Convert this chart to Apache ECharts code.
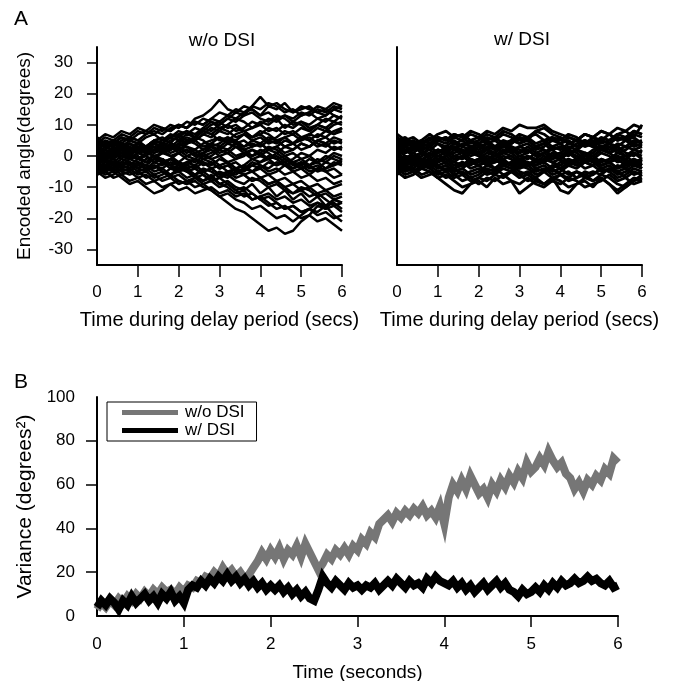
<!DOCTYPE html>
<html>
<head>
<meta charset="utf-8">
<script src="https://cdn.jsdelivr.net/npm/echarts@6/dist/echarts.min.js"></script>
<style>
  html, body { margin: 0; padding: 0; background: #fff; }
  #chart { width: 681px; height: 681px; }
</style>
</head>
<body>
<div id="chart"></div>
<script>
// Panel A: sample times (s) of each simulated trial
const TIME_A = [0,0.2,0.4,0.6,0.8,1,1.2,1.4,1.6,1.8,2,2.2,2.4,2.6,2.8,3,3.2,3.4,3.6,3.8,4,4.2,4.4,4.6,4.8,5,5.2,5.4,5.6,5.8,6];

// encoded angle (deg) per trial, without DSI
const TRIALS_NO_DSI = [
  [2,4,3,5,6,5,7,8,7,9,10,9,12,13,15,18,15,14,16,15,13,14,12,13,11,13,14,12,13,15,16],
  [1,-1,2,3,1,4,3,5,6,4,7,8,6,9,11,10,12,14,13,16,19,16,17,15,14,16,15,14,15,13,12],
  [-3,-5,-4,-6,-5,-7,-6,-8,-7,-6,-8,-9,-8,-10,-11,-13,-15,-17,-18,-20,-22,-24,-23,-25,-24,-21,-19,-16,-17,-14,-15],
  [-4,-6,-5,-7,-9,-8,-10,-12,-11,-9,-8,-9,-7,-8,-6,-9,-8,-10,-11,-9,-12,-10,-13,-11,-14,-12,-15,-13,-16,-15,-17],
  [0,-2,-1,-3,-2,-4,-3,-5,-4,-6,-5,-7,-6,-8,-7,-9,-10,-12,-11,-14,-13,-15,-17,-16,-18,-20,-19,-21,-20,-22,-24],
  [-2,-4,-3,-5,-6,-5,-7,-6,-8,-7,-9,-8,-10,-9,-11,-13,-12,-14,-15,-17,-16,-18,-20,-19,-21,-19,-17,-18,-16,-19,-21],
  [3,5,4,6,5,7,8,10,9,8,10,9,11,10,12,11,13,12,14,15,13,16,15,17,14,15,16,14,13,15,14],
  [5,3,4,6,5,4,6,7,5,6,8,7,9,8,10,11,9,10,8,9,11,10,12,9,11,10,8,10,9,11,10],
  [0,1,-1,2,0,3,1,2,4,3,5,4,6,5,3,4,6,5,7,6,8,7,5,6,4,5,7,6,8,7,9],
  [-1,0,1,-1,2,1,0,2,1,3,2,0,1,-1,0,2,1,3,2,0,1,-1,0,-2,-1,1,0,2,1,3,2],
  [2,0,1,3,2,4,3,1,2,0,1,-1,-2,0,-1,-3,-2,-4,-3,-1,-2,0,-1,-3,-2,-4,-3,-5,-4,-2,-3],
  [-5,-3,-4,-2,-3,-1,-2,0,-1,-3,-2,-4,-3,-5,-4,-6,-5,-7,-6,-8,-7,-9,-8,-10,-9,-11,-10,-12,-11,-13,-12],
  [4,6,5,3,4,2,3,5,4,6,5,7,6,8,7,9,8,6,7,5,6,4,5,3,4,6,5,7,6,8,9],
  [-3,-1,-2,-4,-3,-5,-4,-2,-3,-1,-2,-4,-3,-5,-4,-6,-7,-5,-6,-8,-7,-9,-8,-10,-12,-11,-13,-12,-14,-16,-15],
  [1,3,2,4,3,1,2,0,1,3,2,4,5,3,4,6,5,7,8,6,7,9,8,10,9,11,10,12,11,13,12],
  [-1,-3,-2,0,-1,1,0,-2,-1,-3,-2,0,-1,1,2,0,1,-1,0,2,1,3,2,0,1,-1,0,-2,-1,1,0],
  [3,1,2,0,1,-1,0,-2,-1,-3,-4,-2,-3,-1,-2,-4,-3,-5,-4,-2,-3,-5,-4,-6,-5,-7,-6,-4,-5,-7,-6],
  [-2,0,-1,1,0,2,1,3,2,4,3,5,4,2,3,1,2,0,1,-1,0,2,1,3,2,4,3,5,4,6,5],
  [0,-2,-1,-3,-2,-4,-5,-3,-4,-2,-3,-5,-6,-4,-5,-7,-6,-8,-9,-7,-8,-10,-9,-11,-12,-10,-11,-13,-12,-14,-13],
  [6,4,5,7,6,8,7,9,8,10,9,11,10,12,11,9,10,8,9,11,10,12,11,13,12,14,13,15,14,16,15],
  [-6,-4,-5,-3,-4,-6,-5,-7,-6,-4,-5,-3,-4,-2,-3,-1,-2,-4,-3,-5,-4,-6,-5,-3,-4,-2,-3,-1,-2,0,-1],
  [2,4,3,1,2,4,3,5,4,2,3,1,2,0,1,3,2,4,3,5,4,6,5,3,4,2,3,5,4,2,3],
  [-4,-2,-3,-5,-4,-2,-3,-1,-2,-4,-3,-5,-4,-6,-8,-7,-9,-11,-10,-12,-14,-13,-15,-17,-16,-18,-17,-19,-18,-20,-19],
  [1,-1,0,2,1,3,2,4,5,7,6,8,7,9,8,10,12,11,13,14,12,11,13,12,10,11,9,10,12,11,13],
  [5,7,6,8,7,9,8,7,9,8,10,9,11,10,12,14,13,15,14,16,15,17,16,14,15,13,14,16,15,17,16],
  [-5,-7,-6,-4,-5,-3,-4,-6,-5,-7,-6,-8,-7,-9,-8,-10,-9,-11,-13,-12,-14,-16,-15,-17,-16,-18,-17,-15,-16,-14,-15],
  [0,2,1,3,4,2,3,5,4,6,7,5,6,8,7,5,6,4,5,3,4,2,3,1,2,4,3,5,6,4,5],
  [-2,-1,-3,-2,0,-1,1,0,-2,-1,1,2,0,1,3,2,4,3,1,2,0,-1,1,-1,-3,-2,-4,-3,-5,-4,-6],
  [3,2,4,3,5,4,2,3,1,2,4,6,5,7,9,8,10,12,11,9,10,8,9,7,8,6,7,9,8,10,11],
  [-3,-4,-2,-3,-1,-2,-4,-3,-5,-6,-4,-5,-7,-6,-8,-7,-5,-6,-4,-5,-7,-6,-8,-7,-9,-8,-10,-9,-11,-10,-9],
  [1,0,2,1,-1,0,-2,-1,1,0,-2,-3,-1,-2,-4,-3,-5,-4,-6,-5,-3,-4,-2,-3,-5,-4,-6,-8,-7,-9,-8],
  [-1,1,0,2,3,1,2,4,3,5,6,4,5,7,6,8,7,9,8,6,7,5,6,8,7,9,8,10,9,7,8],
  [4,3,5,4,6,5,3,4,2,3,1,2,0,1,-1,0,-2,-1,1,0,2,1,-1,0,-2,-1,-3,-2,-4,-3,-2],
  [-6,-5,-7,-6,-8,-7,-9,-8,-10,-9,-11,-10,-12,-11,-10,-12,-11,-13,-12,-14,-13,-12,-14,-13,-15,-14,-16,-15,-17,-16,-18],
  [2,1,3,2,4,3,2,4,3,1,2,3,1,2,4,3,5,4,2,3,4,2,3,5,4,6,5,3,4,2,3],
  [-2,-1,-3,-1,-2,-3,-1,0,-2,-1,-3,-2,-1,-3,-2,-4,-3,-2,-4,-3,-2,-1,-3,-2,-4,-3,-5,-4,-2,-3,-1],
  [0,-1,1,0,-1,1,2,1,3,2,4,3,2,4,5,6,4,5,3,4,3,5,4,6,7,5,6,4,3,5,4],
  [-4,-3,-5,-3,-4,-2,-3,-4,-2,-3,-5,-4,-6,-5,-7,-5,-6,-4,-5,-3,-4,-2,-3,-1,-2,-3,-1,-2,0,-1,-2]
];

// encoded angle (deg) per trial, with DSI
const TRIALS_DSI = [
  [7,5,6,4,5,7,8,6,7,5,6,8,7,9,8,10,9,9,10,8,7,6,5,7,6,8,7,9,8,10,9],
  [-5,-7,-6,-4,-5,-7,-9,-11,-12,-9,-8,-10,-7,-9,-8,-12,-10,-8,-9,-7,-11,-12,-9,-8,-10,-7,-9,-12,-10,-8,-7],
  [3,1,2,4,3,5,4,6,5,7,6,4,5,3,4,6,5,8,9,7,6,4,5,3,4,6,5,7,8,6,10],
  [-2,0,-1,-3,-2,-4,-3,-5,-4,-6,-5,-3,-4,-2,-3,-5,-6,-4,-5,-7,-6,-8,-7,-5,-6,-4,-5,-7,-6,-4,-5],
  [0,2,1,-1,0,2,1,3,2,0,1,-1,0,2,1,-1,0,-2,-1,1,0,2,1,-1,0,-2,-1,1,0,2,1],
  [4,2,3,1,2,0,1,-1,0,2,1,3,2,4,3,1,2,0,1,3,2,4,3,5,4,2,3,1,2,4,3],
  [-4,-2,-3,-1,-2,0,-1,-3,-2,-4,-3,-1,-2,0,-1,-3,-2,-4,-3,-5,-4,-2,-3,-1,-2,-4,-3,-5,-4,-2,-3],
  [2,4,3,5,4,6,5,7,6,4,5,7,6,8,7,5,6,4,5,3,4,6,5,7,6,8,7,5,6,8,7],
  [-1,-3,-2,-4,-3,-1,-2,0,-1,1,0,-2,-1,-3,-2,0,-1,1,0,-2,-1,-3,-2,0,-1,1,0,-2,-1,-3,-2],
  [1,-1,0,-2,-1,-3,-2,-4,-3,-1,-2,0,-1,-3,-2,-4,-3,-1,-2,0,-1,1,0,-2,-1,-3,-2,-4,-3,-1,-2],
  [-6,-4,-5,-3,-4,-6,-5,-7,-6,-8,-7,-5,-6,-4,-5,-7,-6,-8,-9,-7,-8,-10,-9,-7,-8,-6,-7,-9,-10,-8,-6],
  [5,3,4,2,3,1,2,4,3,5,4,2,3,5,4,6,5,3,4,2,3,1,2,4,3,5,4,6,5,3,4],
  [-3,-5,-4,-6,-5,-7,-6,-8,-10,-9,-7,-8,-6,-7,-5,-6,-8,-7,-9,-8,-6,-7,-5,-6,-8,-7,-9,-11,-9,-7,-8],
  [6,4,5,3,4,6,5,7,6,8,7,5,6,4,5,7,6,8,7,5,6,4,5,7,6,4,5,7,6,8,7],
  [0,-2,-1,1,0,2,1,-1,0,-2,-1,1,0,2,1,3,2,0,1,-1,0,-2,-1,1,0,2,1,-1,0,-2,-1],
  [-5,-3,-4,-2,-3,-5,-4,-6,-5,-7,-6,-4,-5,-3,-4,-2,-3,-5,-4,-6,-5,-3,-4,-2,-3,-5,-4,-6,-5,-3,-4],
  [3,5,4,2,3,1,2,0,1,3,2,4,3,1,2,0,1,3,2,0,1,3,2,4,3,5,4,2,3,5,4],
  [-2,-4,-3,-1,-2,-4,-3,-5,-4,-2,-3,-5,-4,-6,-5,-3,-4,-6,-5,-3,-4,-6,-5,-7,-6,-4,-5,-3,-4,-6,-5],
  [1,3,2,4,3,5,6,4,5,3,4,6,5,7,6,4,5,3,4,6,5,7,6,4,5,3,4,6,5,7,6],
  [-3,-1,-2,0,1,-1,0,2,1,-1,-2,0,-1,1,0,-2,-3,-1,-2,0,-1,1,0,-2,-1,-3,-2,0,-1,1,0],
  [2,0,-1,1,-1,-2,0,-2,-3,-1,-3,-2,-4,-2,-3,-1,-3,-2,0,-2,-3,-1,-2,-4,-3,-1,-2,0,-2,-1,-3],
  [5,6,4,5,7,5,6,4,3,5,3,4,2,3,5,4,6,7,5,6,4,5,3,4,6,5,7,5,6,4,5],
  [-4,-6,-5,-7,-6,-5,-7,-6,-8,-7,-9,-7,-8,-6,-8,-9,-7,-9,-10,-8,-9,-7,-8,-10,-9,-8,-6,-8,-7,-9,-8],
  [0,-1,1,3,2,4,2,3,1,2,0,2,1,-1,0,-2,0,-1,1,2,0,1,-1,0,2,3,1,2,0,1,-1],
  [1,2,0,1,-1,1,3,2,4,3,1,2,0,1,3,2,1,3,4,2,3,1,2,0,1,3,2,4,3,2,3],
  [-1,-2,0,-1,-3,-1,-2,-4,-2,-3,-1,-3,-2,-1,-3,-4,-2,-3,-1,-2,-4,-3,-1,-2,-3,-1,-2,-4,-2,-3,-1],
  [4,5,3,4,6,4,3,5,3,2,4,5,3,4,2,3,4,2,3,5,4,2,4,5,3,2,4,3,5,6,4],
  [-4,-3,-5,-4,-2,-3,-5,-4,-6,-5,-4,-6,-5,-3,-4,-6,-5,-7,-5,-4,-6,-5,-7,-6,-5,-6,-4,-5,-7,-5,-6],
  [2,1,3,2,0,2,0,1,2,1,3,2,1,3,2,1,3,1,2,0,1,0,2,1,0,2,1,3,1,0,2],
  [-2,-3,-1,-2,-4,-2,-1,-2,0,-2,-1,-3,-1,-2,-3,-1,-2,-3,-2,-4,-2,-1,-3,-2,-1,-3,-2,-1,-3,-2,-4]
];

// Panel B: variance across trials (deg^2)
const TIME_B = [
  0,0.05,0.1,0.15,0.2,0.25,0.3,0.35,0.4,0.45,0.5,0.55,0.6,0.65,0.7,0.75,0.8,0.85,0.9,0.95,
  1,1.05,1.1,1.15,1.2,1.25,1.3,1.35,1.4,1.45,1.5,1.55,1.6,1.65,1.7,1.75,1.8,1.85,1.9,1.95,
  2,2.05,2.1,2.15,2.2,2.25,2.3,2.35,2.4,2.45,2.5,2.55,2.6,2.65,2.7,2.75,2.8,2.85,2.9,2.95,
  3,3.05,3.1,3.15,3.2,3.25,3.3,3.35,3.4,3.45,3.5,3.55,3.6,3.65,3.7,3.75,3.8,3.85,3.9,3.95,
  4,4.05,4.1,4.15,4.2,4.25,4.3,4.35,4.4,4.45,4.5,4.55,4.6,4.65,4.7,4.75,4.8,4.85,4.9,4.95,
  5,5.05,5.1,5.15,5.2,5.25,5.3,5.35,5.4,5.45,5.5,5.55,5.6,5.65,5.7,5.75,5.8,5.85,5.9,5.95,
  6
];
const VAR_NO_DSI = [
  3,6,4,7,5,8,6,9,7,10,8,11,9,12,10,13,11,12,10,13,11,
  14,13,16,15,18,17,20,18,22,19,21,18,20,17,19,22,25,29,26,30,
  27,31,26,30,28,32,27,33,29,25,21,24,28,26,30,28,31,28,32,30,
  35,33,38,36,42,44,46,43,47,45,48,46,49,47,50,46,48,45,50,42,
  54,60,57,62,58,64,60,56,58,54,60,57,62,59,64,61,66,63,70,66,
  68,72,69,75,71,68,70,65,63,58,61,57,62,60,64,62,67,65,72,70
];
const VAR_DSI = [
  4,7,5,8,6,3,7,5,9,6,8,10,7,9,6,10,8,11,7,9,6,
  12,14,13,16,14,17,15,18,16,19,16,18,15,17,14,16,13,15,12,14,
  12,14,11,13,10,12,9,11,8,7,12,18,15,13,16,14,12,15,13,14,
  12,14,13,15,12,14,16,14,17,15,13,16,14,15,13,17,15,18,16,15,
  14,16,13,15,12,14,11,13,15,12,14,16,13,15,12,11,9,12,10,11,
  13,11,14,12,15,13,16,14,15,17,15,16,18,16,17,15,14,16,13,14
];

const FONT = "'Liberation Sans', Arial, Helvetica, sans-serif";
const INK = "#000";
const GREY = "#767676";

function traceSeries(trials, axis, width) {
  return trials.map((vals, k) => ({
    name: "trial" + axis + "_" + k,
    type: "line",
    xAxisIndex: axis,
    yAxisIndex: axis,
    symbol: "none",
    silent: true,
    clip: true,
    lineStyle: { color: INK, width: width },
    data: TIME_A.map((t, i) => [t, vals[i]]),
  }));
}

function timeAxisA(gridIndex) {
  return {
    type: "value",
    gridIndex,
    min: 0,
    max: 6,
    interval: 1,
    name: "Time during delay period (secs)",
    nameLocation: "middle",
    nameGap: 45,
    nameTextStyle: { fontSize: 20, color: INK, fontFamily: FONT },
    axisLine: { show: true, onZero: false, lineStyle: { color: INK, width: 2 } },
    axisTick: { show: true, length: 12, customValues: [1, 2, 3, 4, 5, 6], lineStyle: { color: INK, width: 1.5 } },
    axisLabel: { margin: 19, fontSize: 17, color: INK, fontFamily: FONT },
    splitLine: { show: false },
  };
}

const chart = echarts.init(document.getElementById("chart"), null, { renderer: "canvas" });

chart.setOption({
  animation: false,
  backgroundColor: "#fff",
  textStyle: { fontFamily: FONT, color: INK },
  grid: [
    { left: 97, top: 47, width: 245, height: 218, outerBoundsMode: "none" },
    { left: 397, top: 47, width: 245, height: 218, outerBoundsMode: "none" },
    { left: 97, top: 397, width: 521, height: 219, outerBoundsMode: "none" },
  ],
  xAxis: [
    timeAxisA(0),
    timeAxisA(1),
    {
      type: "value",
      gridIndex: 2,
      min: 0,
      max: 6,
      interval: 1,
      name: "Time (seconds)",
      nameLocation: "middle",
      nameGap: 47,
      nameTextStyle: { fontSize: 19, color: INK, fontFamily: FONT },
      axisLine: { show: true, onZero: false, lineStyle: { color: INK, width: 2 } },
      axisTick: { show: true, length: 11, customValues: [1, 2, 3, 4, 5, 6], lineStyle: { color: INK, width: 1.5 } },
      axisLabel: { margin: 20, fontSize: 17, color: INK, fontFamily: FONT },
      splitLine: { show: false },
    },
  ],
  yAxis: [
    {
      type: "value",
      gridIndex: 0,
      min: -35,
      max: 35,
      name: "Encoded angle(degrees)",
      nameLocation: "middle",
      nameGap: 63,
      nameTextStyle: { fontSize: 19, color: INK, fontFamily: FONT },
      axisLine: { show: true, onZero: false, lineStyle: { color: INK, width: 2 } },
      axisTick: { show: true, length: 10, customValues: [-30, -20, -10, 0, 10, 20, 30], lineStyle: { color: INK, width: 1.5 } },
      axisLabel: { margin: 24, fontSize: 17, color: INK, fontFamily: FONT, customValues: [-30, -20, -10, 0, 10, 20, 30] },
      splitLine: { show: false },
    },
    {
      type: "value",
      gridIndex: 1,
      min: -35,
      max: 35,
      axisLine: { show: true, onZero: false, lineStyle: { color: INK, width: 2 } },
      axisTick: { show: false },
      axisLabel: { show: false },
      splitLine: { show: false },
    },
    {
      type: "value",
      gridIndex: 2,
      min: 0,
      max: 100,
      interval: 20,
      name: "Variance (degrees²)",
      nameLocation: "middle",
      nameGap: 60,
      nameTextStyle: { fontSize: 21, color: INK, fontFamily: FONT },
      axisLine: { show: true, onZero: false, lineStyle: { color: INK, width: 2 } },
      axisTick: { show: true, length: 11, customValues: [20, 40, 60, 80], lineStyle: { color: INK, width: 1.5 } },
      axisLabel: { margin: 22, fontSize: 17, color: INK, fontFamily: FONT },
      splitLine: { show: false },
    },
  ],
  legend: {
    data: ["w/o DSI", "w/ DSI"],
    orient: "vertical",
    left: 107,
    top: 402,
    padding: [2, 12, 2, 15],
    itemGap: 1,
    itemWidth: 56,
    itemHeight: 5,
    icon: "rect",
    borderColor: INK,
    borderWidth: 1,
    selectedMode: false,
    textStyle: { fontSize: 17, color: INK, fontFamily: FONT, padding: [0, 0, 0, 2] },
  },
  graphic: [
    { type: "text", x: 14, y: 19, style: { text: "A", font: "21px " + FONT, fill: INK, verticalAlign: "middle" } },
    { type: "text", x: 222, y: 41, style: { text: "w/o DSI", font: "19px " + FONT, fill: INK, align: "center", verticalAlign: "middle" } },
    { type: "text", x: 522, y: 40, style: { text: "w/ DSI", font: "19px " + FONT, fill: INK, align: "center", verticalAlign: "middle" } },
    { type: "text", x: 14, y: 382, style: { text: "B", font: "21px " + FONT, fill: INK, verticalAlign: "middle" } },
  ],
  series: [
    ...traceSeries(TRIALS_NO_DSI, 0, 2.5),
    ...traceSeries(TRIALS_DSI, 1, 2.8),
    {
      name: "w/o DSI",
      type: "line",
      xAxisIndex: 2,
      yAxisIndex: 2,
      symbol: "none",
      color: GREY,
      lineStyle: { color: GREY, width: 8, join: "miter" },
      data: TIME_B.map((t, i) => [t, VAR_NO_DSI[i]]),
    },
    {
      name: "w/ DSI",
      type: "line",
      xAxisIndex: 2,
      yAxisIndex: 2,
      symbol: "none",
      color: INK,
      lineStyle: { color: INK, width: 8, join: "miter" },
      data: TIME_B.map((t, i) => [t, VAR_DSI[i]]),
    },
  ],
});
</script>
</body>
</html>
